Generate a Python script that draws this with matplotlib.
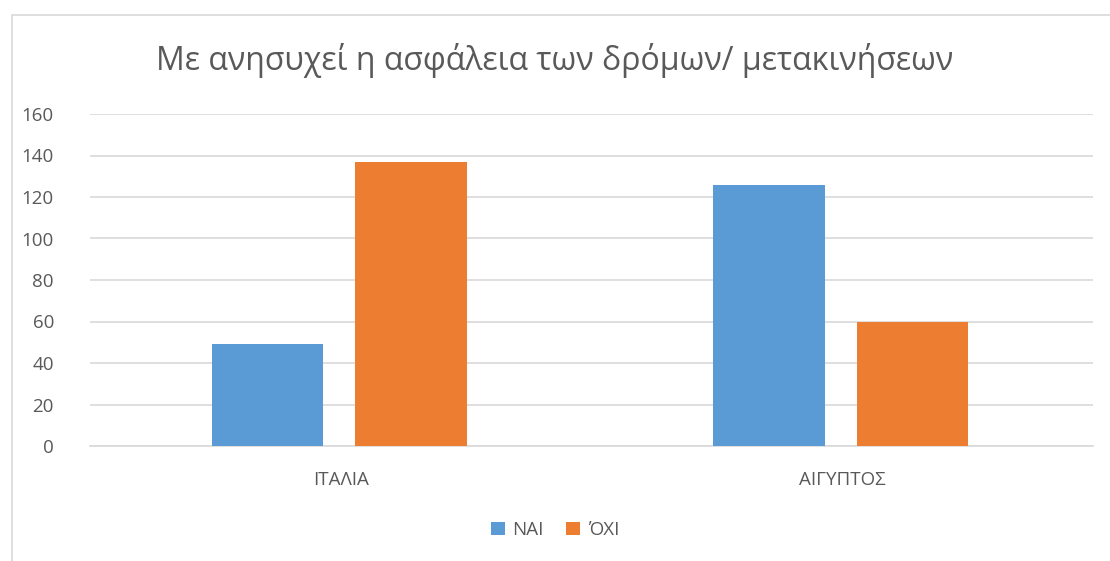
import matplotlib
matplotlib.use("Agg")
import matplotlib.pyplot as plt
from matplotlib.patches import Rectangle
import numpy as np

plt.rcParams['font.family'] = ['Open Sans', 'DejaVu Sans']

categories = ['ΙΤΑΛΙΑ', 'ΑΙΓΥΠΤΟΣ']
nai = [49, 126]
oxi = [137, 60]
series_names = ['ΝΑΙ', 'ΌΧΙ']
yticks = [0, 20, 40, 60, 80, 100, 120, 140, 160]

blue = '#5B9BD5'
orange = '#ED7D31'
txt = '#595959'

fig = plt.figure(figsize=(11.1, 5.61), dpi=100)
# chart border
fig.patches.append(Rectangle((12/1110, -0.01), 1.0, 1 - 15/561 + 0.01, transform=fig.transFigure,
                             fill=False, edgecolor='#D9D9D9', lw=1.2))

ax = fig.add_axes([90/1110, 1 - 446/561, 1003/1110, 332/561])
x = np.arange(len(categories))
w = 0.223
ax.bar(x - 0.146, nai, w, color=blue, label=series_names[0], zorder=3)
ax.bar(x + 0.140, oxi, w, color=orange, label=series_names[1], zorder=3)

ax.set_xlim(-0.5, 1.5)
ax.set_ylim(0, 160)
ax.set_yticks(yticks)
ax.yaxis.grid(True, color='#D9D9D9', lw=1.2, zorder=0)
ax.set_xticks(x)
ax.set_xticklabels(categories)
for s in ['top', 'right', 'left']:
    ax.spines[s].set_visible(False)
ax.spines['bottom'].set_color('#D9D9D9')
ax.spines['bottom'].set_linewidth(1.2)
ax.tick_params(axis='both', length=0, labelsize=13.5, colors=txt)
ax.tick_params(axis='y', pad=26)
ax.tick_params(axis='x', pad=18)

fig.text(0.5, 1 - 60/561, 'Με ανησυχεί η ασφάλεια των δρόμων/ μετακινήσεων',
         ha='center', va='center', fontsize=23, color=txt)

fig.legend(loc='center', bbox_to_anchor=(0.5, 1 - 530/561), ncol=2, frameon=False,
           fontsize=13.5, labelcolor=txt, handlelength=0.75, handleheight=0.75,
           handletextpad=0.4, columnspacing=1.2)

fig.savefig('out.png', dpi=100)
